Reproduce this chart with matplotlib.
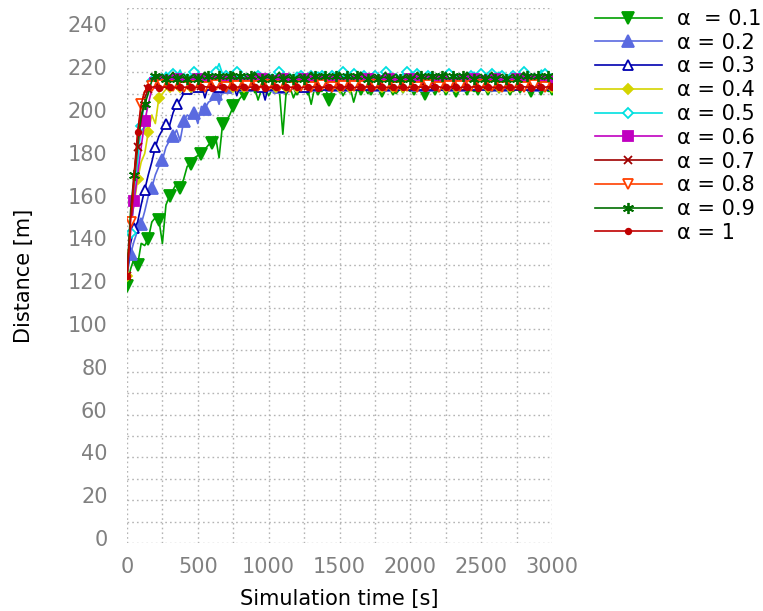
import numpy as np
import matplotlib
matplotlib.use("Agg")
import matplotlib.pyplot as plt
from matplotlib.ticker import MultipleLocator
from matplotlib.transforms import ScaledTranslation

STEP = 25  # seconds between samples

a01 = [120,128,133,130,140,139,142,150,152,151,140,158,162,165,168,166,170,176,177,180,
       181,182,184,186,187,190,180,196,197,200,204,206,208,210,212,
       211,213,207,212,213,209,212,213,212,191,
       212,213,208,212,213,211,212,205,213,212,
       211,213,207,212,212,213,209,212,213,206,
       212,212,213,210,212,212,213,211,212,213,
       212,210,212,213,212,211,212,213,212,210,
       212,213,212,211,212,212,213,212,211,212,
       213,212,212,211,212,213,212,212,211,212,
       213,212,212,212,211,212,213,212,212,211,
       212,213,212,212,211,212]

a02 = [125,135,141,146,149,155,162,166,172,176,179,185,188,190,193,188,197,200,199,201,
       196,204,203,206,207,210,205,212,213,
       214,215,214,213,215,214,215,214,216,214,
       215,214,214,215,213,215,214,215,214,215,
       214,215,214,214,215,214,215,214,215,214,
       215,214,214,215,214,215,214,214,215,214,
       215,214,215,214,214,215,214,215,214,214,
       215,214,215,214,215,214,214,215,214,215,
       214,215,214,214,215,214,215,214,215,214,
       214,215,214,215,214,215,214,214,215,214,
       215,214,214,215,214,215,214,215,214,215,
       214,215]

a03 = [125,140,147,150,158,165,172,178,185,190,193,196,195,201,205,207,210,212,214,
       214,213,214,208,214,215,214,213,214,214,
       215,214,209,214,213,214,214,215,214,213,
       207,214,214,215,214,213,214,214,215,214,
       214,213,214,215,214,214,213,214,215,214,
       214,214,213,214,215,214,214,213,214,214,
       215,214,214,213,214,214,215,214,214,213,
       217,214,214,215,214,213,214,214,215,214,
       214,213,214,214,215,214,214,213,214,214,
       215,214,214,213,214,214,215,214,214,213,
       214,214,215,214,214,213,214,214,215,214,
       214,213]

a04 = [125,150,158,170,178,182,192,200,196,208,210,212,213,
       213,214,213,214,214,213,214,213,214,213,
       213,214,213,214,214,213,214,213,214,213,
       213,214,213,214,214,213,214,213,214,213,
       213,214,213,214,214,213,214,213,214,213,
       213,214,213,214,214,213,214,213,214,213,
       213,214,213,214,214,213,214,213,214,213,
       213,214,213,214,214,213,214,213,214,213,
       213,214,213,214,214,213,214,213,214,213,
       213,214,213,214,214,213,214,213,214,213,
       213,214,213,214,214,213,214,213,214,213,
       213,214,213,214,214,213,214,213]

a05 = [125,145,160,178,195,207,212,216,
       218,219,217,220,218,219,218,221,217,219,
       218,220,218,219,217,219,218,220,224,219,
       218,217,219,220,218,219,217,218,220,218,
       219,218,217,219,218,220,218,219,217,218,
       220,218,219,217,218,219,220,218,219,217,
       218,219,218,220,217,218,219,218,220,218,
       219,217,218,219,218,220,218,219,217,218,
       219,220,218,217,219,218,219,218,220,218,
       217,219,218,219,220,218,217,218,219,218,
       220,218,219,217,218,219,218,220,218,219,
       217,218,219,218,220,218,219,217,218,221,
       219,218,217]

a06 = [125,145,160,172,185,197,205,212,215,
       216,217,216,215,216,217,216,216,215,217,
       216,217,216,215,216,217,216,216,215,217,
       216,217,216,215,216,217,216,216,215,217,
       216,217,216,215,216,217,216,216,215,217,
       216,217,216,215,216,217,216,216,215,217,
       216,217,216,215,216,217,216,216,215,217,
       219,217,216,215,216,217,216,216,215,217,
       216,217,216,215,216,217,216,216,215,217,
       216,217,216,215,216,217,216,216,215,217,
       216,217,216,215,216,217,216,216,215,217,
       216,217,216,215,216,217,216,216,215,217,
       216,216]

a07 = [125,148,168,185,198,208,212,214,
       214,214.5,214,213.5,214,214,214.5,214,213.5,214,
       214,214.5,214,213.5,214,214,214.5,214,213.5,214,
       214,214.5,214,213.5,214,214,214.5,214,213.5,214,
       214,214.5,214,213.5,214,214,214.5,214,213.5,214,
       214,214.5,214,213.5,214,214,214.5,214,213.5,214,
       214,214.5,214,213.5,214,214,214.5,214,213.5,214,
       214,214.5,214,213.5,214,214,214.5,214,213.5,214,
       214,214.5,214,213.5,214,214,214.5,214,213.5,214,
       214,214.5,214,213.5,214,214,214.5,214,213.5,214,
       214,214.5,214,213.5,214,214,214.5,214,213.5,214,
       214,214.5,214,213.5,214,214,214.5,214,213.5,214,
       214,214.5,214]

a08 = [125,150,170,190,205,211,213,
       213.5,213,213.5,214,213.5,213,213.5,213.5,214,213,
       213.5,213,213.5,214,213.5,213,213.5,213.5,214,213,
       213.5,213,213.5,214,213.5,213,213.5,213.5,214,213,
       213.5,213,213.5,214,213.5,213,213.5,213.5,214,213,
       213.5,213,213.5,214,213.5,213,213.5,213.5,214,213,
       213.5,213,213.5,214,213.5,213,213.5,213.5,214,213,
       213.5,213,213.5,214,213.5,213,213.5,213.5,214,213,
       213.5,213,213.5,214,213.5,213,213.5,213.5,214,213,
       213.5,213,213.5,214,213.5,213,213.5,213.5,214,213,
       213.5,213,213.5,214,213.5,213,213.5,213.5,214,213,
       213.5,213,213.5,214,213.5,213,213.5,213.5,214,213,
       213.5,213,213.5,214]

a09 = [125,155,172,188,200,205,210,216,218,
       218,219,217,218,220,217,218,219,217,218,
       219,217,218,220,218,217,219,218,217,219,
       218,220,217,218,219,217,218,220,218,217,
       218,219,217,218,220,217,218,219,217,218,
       219,217,218,220,218,217,219,218,217,219,
       218,220,217,218,219,217,218,220,218,217,
       218,219,217,218,220,217,218,219,217,218,
       219,217,218,220,218,217,219,218,217,219,
       218,220,217,218,219,217,218,220,218,217,
       218,219,217,218,220,217,218,219,217,218,
       219,217,218,220,218,217,219,218,217,219,
       218,219]

a10 = [125,150,172,192,205,211,213,
       213,213.2,212.8,213,213,213.2,213,212.8,213,213,
       213,213.2,212.8,213,213,213.2,213,212.8,213,213,
       213,213.2,212.8,213,213,213.2,213,212.8,213,213,
       213,213.2,212.8,213,213,213.2,213,212.8,213,213,
       213,213.2,212.8,213,213,213.2,213,212.8,213,213,
       213,213.2,212.8,213,213,213.2,213,212.8,213,213,
       213,213.2,212.8,213,213,213.2,213,212.8,213,213,
       213,213.2,212.8,213,213,213.2,213,212.8,213,213,
       213,213.2,212.8,213,213,213.2,213,212.8,213,213,
       213,213.2,212.8,213,213,213.2,213,212.8,213,213,
       213,213.2,212.8,213,213,213.2,213,212.8,213,213,
       213,213,213.2,213]

series = [a01, a02, a03, a04, a05, a06, a07, a08, a09, a10]
labels = ["α  = 0.1", "α = 0.2", "α = 0.3", "α = 0.4", "α = 0.5",
          "α = 0.6", "α = 0.7", "α = 0.8", "α = 0.9", "α = 1"]
colors = ["#00a000", "#5a6ae0", "#0000b0", "#d4d400", "#00e0e0",
          "#c000c0", "#a00000", "#ff4000", "#006e00", "#c00000"]
markers = ["v", "^", "^", "D", "D", "s", "x", "v", (6, 2, 0), "o"]
msizes = [8, 8, 7, 5, 5, 7, 6, 7, 8, 4]
filled = [True, True, False, True, False, True, True, False, True, True]
offsets = [0, 1, 2, 0, 1, 2, 0, 1, 2, 0]

fig = plt.figure(figsize=(7.63, 6.11), dpi=100)
ax = fig.add_axes([127/763, 1 - 543/611, 425/763, 535/611])

for v, lab, c, m, ms, f, off in zip(series, labels, colors, markers, msizes, filled, offsets):
    t = STEP * np.arange(len(v))
    ax.plot(t, v, color=c, lw=1.2, marker=m, ms=ms,
            mfc=(c if f else "white"), mec=c, mew=1.3,
            markevery=(off, 3), label=lab)

ax.set_xlim(0, 3000)
ax.set_ylim(0, 250)
ax.xaxis.set_major_locator(MultipleLocator(500))
ax.xaxis.set_minor_locator(MultipleLocator(250))
ax.yaxis.set_major_locator(MultipleLocator(20))
ax.yaxis.set_minor_locator(MultipleLocator(10))
ax.grid(True, which="both", color="#b4b4b4", linestyle=(0, (1.2, 2.2)), linewidth=1.0)
for s in ax.spines.values():
    s.set_visible(False)
ax.tick_params(which="both", length=0)
ax.tick_params(axis="x", pad=10, labelsize=15, labelcolor="#808080")
ax.tick_params(axis="y", pad=14, labelsize=15, labelcolor="#808080")

fig.canvas.draw()
shift = ScaledTranslation(0, 5/100, fig.dpi_scale_trans)
for lbl in ax.get_yticklabels():
    lbl.set_transform(lbl.get_transform() + shift)

ax.set_xlabel("Simulation time [s]", fontsize=15, color="black")
ax.xaxis.set_label_coords(0.5, -(589 - 543) / 535)
ax.xaxis.label.set_va("top")
ax.set_ylabel("Distance [m]", fontsize=15, color="black")
ax.yaxis.set_label_coords((34 - 127) / 425, 0.5)

ax.legend(loc="upper left", bbox_to_anchor=(595/763, 1 - 9/611),
          bbox_transform=fig.transFigure, frameon=False, fontsize=15,
          borderaxespad=0, borderpad=0, labelspacing=0.18,
          handlelength=3.2, handletextpad=0.75)

fig.savefig("out.png", dpi=100)
